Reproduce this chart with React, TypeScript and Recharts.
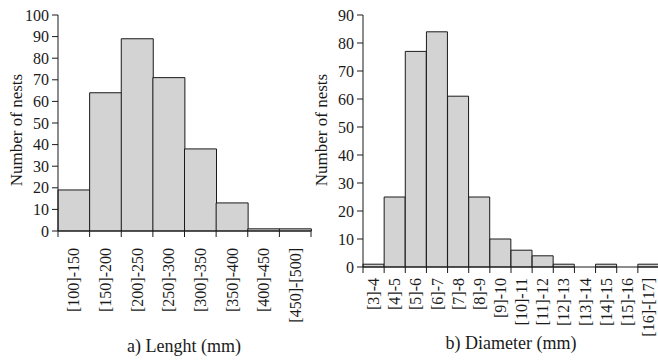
import React from 'react'
import { BarChart, Bar, XAxis, YAxis } from 'recharts'

// a) nest length classes (mm)
const lengthClasses = ['[100]-150', '[150]-200', '[200]-250', '[250]-300', '[300]-350', '[350]-400', '[400]-450', '[450]-[500]']
const lengthNests = [19, 64, 89, 71, 38, 13, 1, 1]
const lengthTicks = [0, 10, 20, 30, 40, 50, 60, 70, 80, 90, 100]

// b) nest diameter classes (mm)
const diameterClasses = ['[3]-4', '[4]-5', '[5]-6', '[6]-7', '[7]-8', '[8]-9', '[9]-10', '[10]-11', '[11]-12', '[12]-13', '[13]-14', '[14]-15', '[15]-16', '[16]-[17]']
const diameterNests = [1, 25, 77, 84, 61, 25, 10, 6, 4, 1, 0, 1, 0, 1]
const diameterTicks = [0, 10, 20, 30, 40, 50, 60, 70, 80, 90]

const FONT = '"Liberation Serif", "DejaVu Serif", serif'
const INK = '#1a1a1a'

const lengthData = lengthClasses.map((c, i) => ({ cls: c, n: lengthNests[i] }))
const diameterData = diameterClasses.map((c, i) => ({ cls: c, n: diameterNests[i] }))

// x ticks sit on the bin edges, labels in the middle, rotated
const binTick = (bw: number, gap: number, count: number) => (props: any) => {
  const { x, y, payload, index } = props
  const ty = y + gap
  return (
    <g>
      <line x1={x - bw / 2} x2={x - bw / 2} y1={y} y2={y + 6} stroke={INK} />
      {index === count - 1 && <line x1={x + bw / 2} x2={x + bw / 2} y1={y} y2={y + 6} stroke={INK} />}
      <text
        x={x}
        y={ty}
        dy="0.35em"
        transform={`rotate(-90 ${x} ${ty})`}
        textAnchor="end"
        fontFamily={FONT}
        fontSize={16}
        fill={INK}
      >
        {payload.value}
      </text>
    </g>
  )
}

const YTitle = ({ cx, cy }: { cx: number; cy: number }) => (
  <text
    x={cx}
    y={cy}
    transform={`rotate(-90 ${cx} ${cy})`}
    textAnchor="middle"
    fontFamily={FONT}
    fontSize={17}
    fill={INK}
  >
    Number of nests
  </text>
)

const yTick = { fill: INK, fontSize: 16, fontFamily: FONT }

export default function App() {
  return (
    <div style={{ position: 'absolute', left: 0, top: 0, width: 658, height: 361, background: '#fff', overflow: 'hidden' }}>
      <div style={{ position: 'absolute', left: 0, top: 0 }}>
        <BarChart width={330} height={361} data={lengthData} margin={{ top: 15, right: 19, bottom: 30, left: 0 }} barCategoryGap={0} barGap={0}>
          <XAxis
            dataKey="cls"
            height={100}
            interval={0}
            axisLine={{ stroke: INK }}
            tickLine={false}
            tickSize={0}
            tickMargin={0}
            tick={binTick(253 / lengthClasses.length, 17, lengthClasses.length)}
          />
          <YAxis
            width={58}
            domain={[0, 100]}
            ticks={lengthTicks}
            interval={0}
            axisLine={{ stroke: INK }}
            tickLine={{ stroke: INK }}
            tickSize={6}
            tickMargin={3}
            tick={yTick}
          />
          <Bar dataKey="n" fill="#d3d3d3" stroke={INK} strokeWidth={1} isAnimationActive={false} />
        </BarChart>
      </div>
      <div style={{ position: 'absolute', left: 330, top: 0 }}>
        <BarChart width={330} height={361} data={diameterData} margin={{ top: 15, right: 1, bottom: 24, left: 0 }} barCategoryGap={0} barGap={0}>
          <XAxis
            dataKey="cls"
            height={70}
            interval={0}
            axisLine={{ stroke: INK }}
            tickLine={false}
            tickSize={0}
            tickMargin={0}
            tick={binTick(296 / diameterClasses.length, 11, diameterClasses.length)}
          />
          <YAxis
            width={33}
            domain={[0, 90]}
            ticks={diameterTicks}
            interval={0}
            axisLine={{ stroke: INK }}
            tickLine={{ stroke: INK }}
            tickSize={6}
            tickMargin={3}
            tick={yTick}
          />
          <Bar dataKey="n" fill="#d3d3d3" stroke={INK} strokeWidth={1} isAnimationActive={false} />
        </BarChart>
      </div>
      <svg width={658} height={361} style={{ position: 'absolute', left: 0, top: 0, pointerEvents: 'none' }}>
        <YTitle cx={22} cy={130} />
        <YTitle cx={327} cy={130} />
        <text x={184} y={352} textAnchor="middle" fontFamily={FONT} fontSize={18} fill={INK}>a) Lenght (mm)</text>
        <text x={511} y={349} textAnchor="middle" fontFamily={FONT} fontSize={18} fill={INK}>b) Diameter (mm)</text>
      </svg>
    </div>
  )
}
